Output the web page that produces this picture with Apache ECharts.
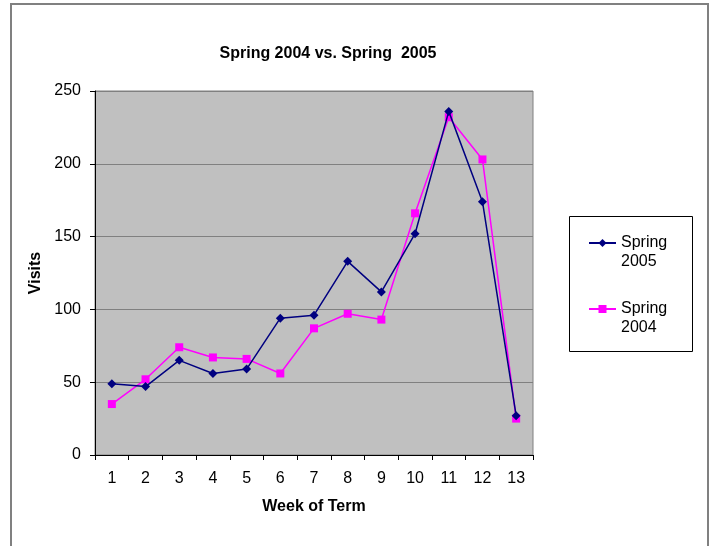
<!DOCTYPE html>
<html>
<head>
<meta charset="utf-8">
<title>Spring 2004 vs. Spring 2005</title>
<script src="https://cdn.jsdelivr.net/npm/echarts@6/dist/echarts.min.js"></script>
<style>
  html, body { margin: 0; padding: 0; background: #fff; }
  #chart { width: 710px; height: 546px; }
</style>
</head>
<body>
<div id="chart"></div>
<script>
// weeks of the term (x categories)
var weeks = ['1', '2', '3', '4', '5', '6', '7', '8', '9', '10', '11', '12', '13'];
// visits per week
var spring2005 = [49, 47, 65, 56, 59, 94, 96, 133, 112, 152, 236, 174, 27];
var spring2004 = [35, 52, 74, 67, 66, 56, 87, 97, 93, 166, 232, 203, 25];
var yTicks = { min: 0, max: 250, step: 50 };

var chart = echarts.init(document.getElementById('chart'), null, { renderer: 'canvas' });
var font = 'Arial, "Liberation Sans", sans-serif';

var option = {
    animation: false,
    backgroundColor: '#ffffff',
    title: {
        text: 'Spring 2004 vs. Spring  2005',
        left: 323,
        top: 41,
        textAlign: 'center',
        textStyle: { fontFamily: font, fontSize: 16, fontWeight: 'bold', color: '#000' }
    },
    grid: {
        left: 95, right: 177, top: 91, bottom: 91,
        show: true,
        backgroundColor: '#c0c0c0',
        borderColor: '#808080',
        borderWidth: 1
    },
    legend: {
        orient: 'vertical',
        left: 588,
        top: 214.5,
        padding: 0,
        itemGap: 9,
        itemWidth: 27,
        itemHeight: 10,
        data: ['Spring 2005', 'Spring 2004'],
        // blank first line keeps the icon level with "Spring"
        formatter: function (name) { return '\n' + name.replace(' ', '\n'); },
        textStyle: {
            fontFamily: font, fontSize: 16, color: '#000',
            lineHeight: 19
        }
    },
    xAxis: {
        type: 'category',
        data: weeks,
        boundaryGap: true,
        name: 'Week of Term',
        nameLocation: 'middle',
        nameGap: 44,
        nameTextStyle: { fontFamily: font, fontSize: 16, fontWeight: 'bold', color: '#000' },
        axisLine: { lineStyle: { color: '#000', width: 1 } },
        axisTick: { show: true, inside: false, length: 5, alignWithLabel: false, lineStyle: { color: '#000' } },
        axisLabel: { fontFamily: font, fontSize: 16, color: '#000', margin: 16, interval: 0 },
        splitLine: { show: false }
    },
    yAxis: {
        type: 'value',
        min: yTicks.min,
        max: yTicks.max,
        interval: yTicks.step,
        name: 'Visits',
        nameLocation: 'middle',
        nameGap: 46,
        nameTextStyle: { fontFamily: font, fontSize: 16, fontWeight: 'bold', color: '#000' },
        axisLine: { show: true, lineStyle: { color: '#000', width: 1 } },
        axisTick: { show: true, inside: false, length: 5, lineStyle: { color: '#000' } },
        axisLabel: { fontFamily: font, fontSize: 16, color: '#000', margin: 14 },
        splitLine: { show: true, lineStyle: { color: '#808080', width: 1 } }
    },
    series: [
        {
            name: 'Spring 2005',
            type: 'line',
            data: spring2005,
            symbol: 'diamond',
            symbolSize: 9,
            color: '#000080',
            itemStyle: { color: '#000080' },
            lineStyle: { color: '#000080', width: 1.5 },
            z: 3
        },
        {
            name: 'Spring 2004',
            type: 'line',
            data: spring2004,
            symbol: 'rect',
            symbolSize: 8,
            color: '#ff00ff',
            itemStyle: { color: '#ff00ff' },
            lineStyle: { color: '#ff00ff', width: 1.5 },
            z: 2
        }
    ],
    graphic: [
        {   // outer chart frame
            type: 'rect',
            shape: { x: 11, y: 4, width: 697, height: 600 },
            style: { fill: 'none', stroke: '#808080', lineWidth: 2 },
            silent: true
        },
        {   // legend frame
            type: 'rect',
            shape: { x: 569.5, y: 216.5, width: 123, height: 135 },
            style: { fill: 'none', stroke: '#000', lineWidth: 1 },
            silent: true
        }
    ]
};

chart.setOption(option);
</script>
</body>
</html>
